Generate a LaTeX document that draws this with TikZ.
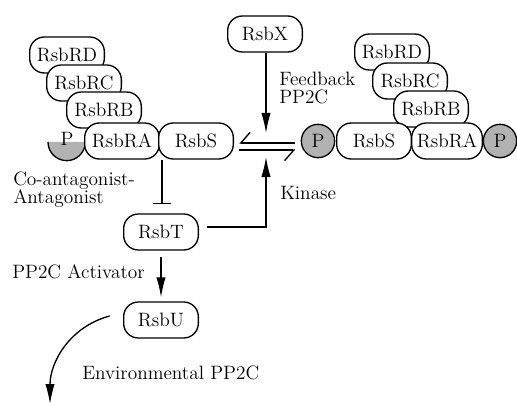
\documentclass[tikz,border=0pt]{standalone}
\usepackage{fontspec}
\usepackage{tikz}
\usetikzlibrary{shapes,arrows,arrows.meta,positioning,calc}

\begin{document}
\begin{tikzpicture}[x=0.75pt,y=-0.75pt,>={Latex[length=15pt,width=7pt]},
  every node/.style={font=\fontsize{14.5pt}{13.5pt}\selectfont},
  prot/.style={draw,fill=white,rounded corners=11pt,minimum width=56pt,minimum height=27pt,inner sep=0pt,line width=1pt},
  phos/.style={draw,circle,fill=black!30,minimum size=25pt,inner sep=0pt,line width=1pt},
  lbl/.style={anchor=west,align=left,inner sep=0pt},
  link/.style={line width=1pt},
  harp/.style={line width=1pt,-{Straight Barb[harpoon,swap,length=7pt,width=16pt]}}]
\useasboundingbox (0,0) rectangle (517,406);

% left complex
\fill[black!30] (48,142) arc[start angle=180,end angle=360,radius=14pt];
\draw[line width=1pt] (48,142) arc[start angle=180,end angle=360,radius=14pt];
\node[inner sep=0pt] (lP) at (67,139) {P};
\node[prot] (lRD) at (67,55) {RsbRD};
\node[prot] (lRC) at (84,83) {RsbRC};
\node[prot] (lRB) at (104,110) {RsbRB};
\node[prot] (lRA) at (122,141) {RsbRA};
\node[prot] (lS) at (196,141) {RsbS};

% right complex
\node[prot] (rRD) at (392,52) {RsbRD};
\node[prot] (rRC) at (410,81) {RsbRC};
\node[prot] (rRB) at (431,109) {RsbRB};
\node[prot] (rS) at (374,141) {RsbS};
\node[prot,minimum width=53pt] (rRA) at (447,141) {RsbRA};
\node[phos] (rP1) at (318,141) {P};
\node[phos] (rP2) at (500,141) {P};

\node[prot] (X) at (265,34) {RsbX};
\node[prot] (T) at (161,232) {RsbT};
\node[prot] (U) at (161,320) {RsbU};

\node[lbl] (fbk) at (279,88) {Feedback\\PP2C};
\node[lbl] (kin) at (280,193) {Kinase};
\node[lbl] (coa) at (13,190) {Co-antagonist-\\Antagonist};
\node[lbl] (act) at (12,272) {PP2C Activator};
\node[lbl] (env) at (82,373) {Environmental PP2C};

\coordinate (fb) at (266,133);
\coordinate (ki) at (266,157);
\coordinate (inh) at (162,204);
\coordinate (out) at (50,404);

% reactions
\draw[harp,shorten <=4pt,shorten >=4pt] ([yshift=-1.5pt]rP1.west) -- ([yshift=-1.5pt]rP1.west -| lS.east);
\draw[harp,shorten <=4pt,shorten >=4pt] ([yshift=-6.75pt]lS.east) -- ([yshift=-6.75pt]lS.east -| rP1.west);
\draw[link,->] (X.south -| fb) -- (fb);
\draw[link,->,shorten <=6pt] ([yshift=3.75pt]T.east) -| (ki);
\draw[link,-{Bar[width=14pt]}] (lRA.south east -| inh) -- (inh);
\draw[link,->,shorten <=5pt,shorten >=3pt] (T.south) -- (U.north);
\draw[link,->] ([xshift=-10pt,yshift=3pt]U.west) to[out=195,in=90] (out);
\end{tikzpicture}
\end{document}
